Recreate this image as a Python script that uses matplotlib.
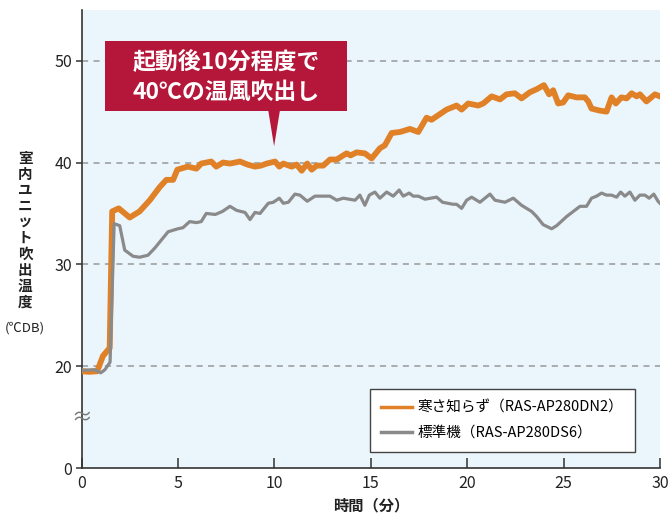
import numpy as np
import matplotlib.pyplot as plt
from matplotlib.patches import Rectangle, Polygon

plt.rcParams['font.family'] = ['Noto Sans CJK JP', 'DejaVu Sans']

# 寒さ知らず (RAS-AP280DN2)
t_hot = [0.0, 0.4, 0.8, 1.1, 1.45, 1.58, 1.92, 2.49, 3.0, 3.53, 4.05, 4.39, 4.74, 4.96,
         5.5, 5.95, 6.2, 6.72, 6.98, 7.33, 7.69, 8.21, 8.6, 8.99, 9.3, 9.6, 10.03,
         10.25, 10.46, 10.89, 11.15, 11.41, 11.7, 11.93, 12.19, 12.53, 12.88, 13.23,
         13.74, 13.95, 14.26, 14.69, 15.04, 15.47, 15.73, 16.08, 16.51, 17.03, 17.46,
         17.89, 18.15, 18.93, 19.45, 19.71, 20.05, 20.57, 20.83, 21.27, 21.7, 22.04,
         22.47, 22.82, 23.25, 23.6, 23.98, 24.25, 24.46, 24.72, 24.98, 25.24, 25.67,
         26.1, 26.28, 26.45, 26.88, 27.23, 27.49, 27.71, 28.0, 28.27, 28.53, 28.79,
         28.96, 29.3, 29.74, 30.0]
v_hot = [19.0, 18.9, 19.0, 21.0, 21.8, 35.2, 35.5, 34.6, 35.2, 36.3, 37.6, 38.3, 38.3, 39.3,
         39.6, 39.4, 39.9, 40.1, 39.6, 40.0, 39.9, 40.1, 39.8, 39.6, 39.7, 39.9, 40.1,
         39.6, 39.9, 39.6, 39.8, 39.2, 39.9, 39.3, 39.7, 39.7, 40.3, 40.3,
         40.9, 40.7, 41.0, 40.9, 40.4, 41.4, 41.7, 42.9, 43.0, 43.3, 43.0,
         44.4, 44.2, 45.2, 45.6, 45.2, 45.8, 45.6, 45.8, 46.5, 46.2, 46.7,
         46.8, 46.3, 46.9, 47.2, 47.6, 46.7, 47.1, 45.8, 45.9, 46.6, 46.4,
         46.4, 46.0, 45.3, 45.1, 45.0, 46.4, 45.8, 46.4, 46.3, 46.8, 46.5,
         46.7, 46.0, 46.7, 46.5]

# 標準機 (RAS-AP280DS6)
t_std = [0.0, 0.67, 0.99, 1.2, 1.47, 1.68, 1.97, 2.23, 2.66, 3.0, 3.44, 3.79, 4.48, 5.0,
         5.25, 5.6, 5.95, 6.2, 6.46, 6.93, 7.3, 7.69, 8.04, 8.47, 8.73, 8.99, 9.25,
         9.68, 9.94, 10.25, 10.46, 10.72, 11.06, 11.32, 11.7, 12.1, 12.53, 12.88,
         13.23, 13.57, 14.18, 14.43, 14.69, 14.92, 15.21, 15.47, 15.82, 16.16, 16.47,
         16.68, 16.99, 17.2, 17.46, 17.81, 18.41, 18.72, 19.27, 19.45, 19.71, 19.97,
         20.23, 20.66, 21.18, 21.44, 21.96, 22.39, 22.82, 23.34, 23.6, 23.94, 24.38,
         24.64, 25.16, 25.85, 26.19, 26.45, 26.71, 26.97, 27.23, 27.49, 27.75, 27.96,
         28.18, 28.44, 28.7, 28.96, 29.22, 29.44, 29.68, 29.9, 30.0]
v_std = [19.2, 19.3, 18.7, 19.3, 20.4, 34.0, 33.8, 31.4, 30.8, 30.7, 30.9, 31.6, 33.2, 33.5,
         33.6, 34.2, 34.1, 34.2, 35.0, 34.9, 35.2, 35.7, 35.3, 35.1, 34.4, 35.1, 35.0,
         36.0, 36.1, 36.5, 36.0, 36.1, 36.9, 36.8, 36.2, 36.7, 36.7, 36.7,
         36.3, 36.5, 36.3, 36.8, 35.8, 36.8, 37.1, 36.5, 37.1, 36.7, 37.3,
         36.7, 37.0, 36.7, 36.7, 36.4, 36.6, 36.1, 35.9, 35.9, 35.5, 36.3,
         36.6, 36.1, 36.9, 36.3, 36.1, 36.5, 35.8, 35.2, 34.7, 33.9, 33.5,
         33.8, 34.7, 35.7, 35.7, 36.5, 36.7, 37.0, 36.8, 36.8, 36.6, 37.1,
         36.7, 37.1, 36.3, 36.8, 36.8, 36.5, 36.9, 36.2, 36.0]

labels = ['寒さ知らず（RAS-AP280DN2）', '標準機（RAS-AP280DS6）']
y_ticks = [0, 20, 30, 40, 50]
x_ticks = [0, 5, 10, 15, 20, 25, 30]


def axis_pos(v):
    # the 0-20 range is squeezed into one 10-degree step (axis break)
    v = np.asarray(v, dtype=float)
    return np.where(v >= 20, v - 10, v / 2)


fig = plt.figure(figsize=(6.7, 5.16), dpi=100)
ax = fig.add_axes([0.122, 0.093, 0.863, 0.888])
ax.set_facecolor('#eaf5fc')

ax.plot(t_hot, axis_pos(v_hot), color='#e08128', lw=4.2, solid_joinstyle='round',
        label=labels[0], zorder=3)
ax.plot(t_std, axis_pos(v_std), color='#8a8a8a', lw=2.3, solid_joinstyle='round',
        label=labels[1], zorder=4)

ax.set_xlim(0, 30)
ax.set_ylim(0, 45)
ax.set_xticks(x_ticks)
ax.set_yticks(axis_pos(y_ticks))
ax.set_yticklabels([str(v) for v in y_ticks])
for v in y_ticks[1:]:
    ax.axhline(axis_pos(v), color='#999999', lw=1.1, ls=(0, (4, 3.5)), zorder=1)

for s in ['top', 'right']:
    ax.spines[s].set_visible(False)
for s in ['left', 'bottom']:
    ax.spines[s].set_color('#333333')
    ax.spines[s].set_linewidth(1.2)
ax.tick_params(axis='x', direction='in', length=7, width=1.1, color='#333333',
               labelsize=11.5, pad=5, labelcolor='#222222')
ax.tick_params(axis='y', direction='out', length=4, width=1.1, color='#333333',
               labelsize=11.5, pad=3, labelcolor='#222222')

# axis break mark
ax.text(0, 5, '≈', transform=ax.transData, ha='center', va='center',
        fontsize=15, color='#777777', clip_on=False, zorder=5)

# axis labels
fig.text(25 / 670, 1 - 230 / 516, '\n'.join('室内ユニット吹出温度'), ha='center',
         va='center', fontsize=10.5, fontweight='bold', linespacing=1.0, color='#222222')
fig.text(25 / 670, 1 - 328 / 516, '(℃DB)', ha='center', va='center',
         fontsize=9.5, color='#222222')
ax.set_xlabel('時間（分）', fontsize=11, fontweight='bold', color='#222222', labelpad=4)

# callout
red = '#b5173a'
ax.add_patch(Rectangle((1.21, 35.1), 12.55, 6.8, facecolor=red, edgecolor='none', zorder=6))
ax.add_patch(Polygon([(9.67, 35.2), (10.29, 35.2), (9.98, 31.6)], closed=True,
                     facecolor=red, edgecolor='none', zorder=6))
ax.text(7.48, 39.9, '起動後10分程度で', ha='center', va='center', fontsize=16.5,
        fontweight='bold', color='white', zorder=7)
ax.text(7.48, 36.9, '40℃の温風吹出し', ha='center', va='center', fontsize=16.5,
        fontweight='bold', color='white', zorder=7)

leg = ax.legend(loc='lower right', bbox_to_anchor=(0.957, 0.036), borderaxespad=0,
                fontsize=10.5, frameon=True, fancybox=False, handlelength=2.1,
                handletextpad=0.4, labelspacing=0.75, borderpad=0.8)
leg.get_frame().set_edgecolor('#444444')
leg.get_frame().set_linewidth(1.0)
leg.get_frame().set_facecolor('white')
leg.get_frame().set_alpha(1)
for line in leg.get_lines():
    line.set_linewidth(2.5)

fig.savefig('out.png', dpi=100)
